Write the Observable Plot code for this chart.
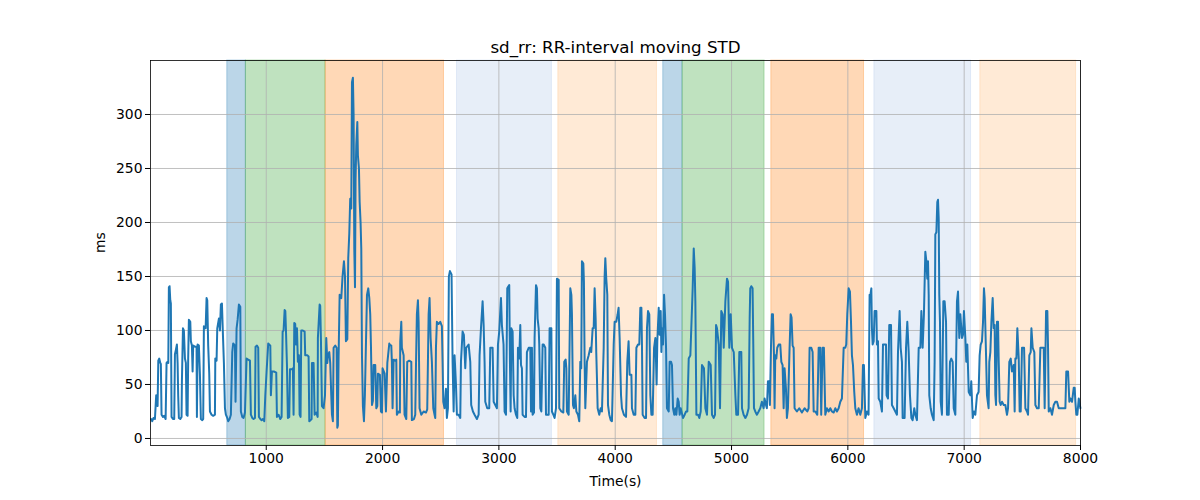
<!DOCTYPE html>
<html><head><meta charset="utf-8">
<script src="https://cdn.jsdelivr.net/npm/d3@7"></script>
<script src="https://cdn.jsdelivr.net/npm/@observablehq/plot@0.6"></script>
<style>body{margin:0;background:#fff;}</style>
</head><body><div id="chart"></div>
<script>
// [time (s), sd_rr (ms)], per stretch of time
const seg1 = [[10,18],[20,16],[31,19],[43,18],[49,30],[54,40],[60,34],[66,30],[72,72],[80,74],[89,70],[94,69],[100,22],[112,20],[123,21],[135,18],[143,70],[152,71],[158,70],[163,140],[169,141],[175,128],[180,125],[186,20],[198,18],[209,18],[215,78],[223,82],[232,87],[238,70],[243,40],[249,19],[261,18],[272,20],[275,53],[284,102],[292,100],[301,74],[309,70],[315,22],[324,21],[329,74],[335,110],[347,108],[352,90],[361,86],[367,62],[372,86],[387,85],[401,85],[404,20],[410,87],[421,86],[430,59],[438,18],[450,17],[458,18],[464,104],[473,102],[479,102],[487,130],[493,128],[501,86],[510,60],[516,25],[530,22],[544,21],[559,22],[562,74],[573,72],[579,102],[593,111],[602,100],[610,124],[619,125],[628,95],[636,70],[645,28],[653,22],[665,19],[673,16],[685,18],[696,22],[708,80],[716,88],[731,86],[736,34],[745,102],[754,110],[765,124],[777,122],[782,25],[794,20],[805,19],[817,24],[831,74],[845,73],[860,72],[868,22],[880,19],[891,18],[903,19],[908,85],[920,86],[931,84],[937,20],[949,18],[960,17],[971,18],[983,16],[992,40],[1003,62],[1017,88],[1035,86]];
const seg2 = [[1040,40],[1049,62],[1066,62],[1086,61],[1092,20],[1106,22],[1121,18],[1132,20],[1141,99],[1149,100],[1158,119],[1164,118],[1169,102],[1178,68],[1186,19],[1198,20],[1204,64],[1221,64],[1229,65],[1235,22],[1241,107],[1249,106],[1255,87],[1264,102],[1272,71],[1281,77],[1287,22],[1295,20],[1301,100],[1315,100],[1330,99],[1335,77],[1353,77],[1364,76],[1370,16],[1381,17],[1390,18],[1393,70],[1407,70],[1416,22],[1430,24],[1442,20],[1444,93],[1459,124],[1464,123],[1470,93],[1479,30],[1493,28],[1505,40],[1516,93],[1525,70],[1530,77],[1542,80],[1550,70],[1559,40],[1565,22],[1573,16],[1579,84],[1593,86],[1605,84],[1611,10],[1616,12],[1622,76],[1631,133],[1645,130],[1656,150],[1668,164],[1677,150],[1685,90],[1697,92],[1705,167],[1714,190],[1722,222],[1731,213],[1737,330],[1745,334],[1751,300],[1757,175],[1763,140],[1768,240],[1774,272],[1783,293],[1788,262],[1797,250],[1803,219],[1811,200],[1817,176],[1823,77],[1831,30],[1840,16],[1848,40],[1854,71],[1866,133],[1877,139],[1886,130],[1894,115],[1900,87],[1909,31],[1917,35],[1923,68],[1937,68],[1946,28],[1955,30],[1960,60],[1977,59],[1986,25],[1995,24],[2000,65],[2018,60],[2029,25],[2041,70],[2058,88]];
const seg3 = [[2060,87],[2075,86],[2080,71],[2086,28],[2095,73],[2109,72],[2118,73],[2123,22],[2138,25],[2149,24],[2152,90],[2161,108],[2166,84],[2181,77],[2189,22],[2204,18],[2212,71],[2229,72],[2247,71],[2252,17],[2270,18],[2281,22],[2287,65],[2295,115],[2304,128],[2310,108],[2318,28],[2333,22],[2353,25],[2373,24],[2384,27],[2390,71],[2396,115],[2404,130],[2413,93],[2424,71],[2436,28],[2447,22],[2453,19],[2459,84],[2467,108],[2482,106],[2496,108],[2510,104],[2516,71],[2522,34],[2533,28],[2545,46],[2553,19],[2562,28],[2570,150],[2579,155],[2593,152],[2602,71],[2611,25],[2619,77],[2631,50],[2639,22],[2654,22],[2668,19],[2674,71],[2688,99],[2699,96],[2711,65],[2719,84],[2740,87],[2754,71],[2762,31],[2777,25],[2791,22],[2811,18],[2826,22],[2834,77],[2846,102],[2860,127],[2869,105],[2877,71],[2883,34],[2900,28],[2917,28],[2926,84],[2946,84],[2955,34],[2969,31],[2983,28],[2992,87],[3003,99],[3018,130],[3026,105],[3040,87],[3049,25],[3061,22],[3072,139],[3089,142]];
const seg4 = [[3095,71],[3101,25],[3107,102],[3118,99],[3127,40],[3135,28],[3147,22],[3158,19],[3164,84],[3175,74],[3184,105],[3190,68],[3198,65],[3204,22],[3221,20],[3233,20],[3241,80],[3256,84],[3270,84],[3276,25],[3284,84],[3290,22],[3302,24],[3307,93],[3319,142],[3327,139],[3333,111],[3342,102],[3347,87],[3356,28],[3365,25],[3376,87],[3385,87],[3399,84],[3405,22],[3416,22],[3428,22],[3436,102],[3451,102],[3456,25],[3468,22],[3479,19],[3491,28],[3499,148],[3514,147],[3519,28],[3537,25],[3554,24],[3562,71],[3574,73],[3580,65],[3585,25],[3600,22],[3614,139],[3623,133],[3628,115],[3637,31],[3645,28],[3657,40],[3666,25],[3680,22],[3691,16],[3700,71],[3708,65],[3714,164],[3726,162],[3731,145],[3737,71],[3743,28],[3757,71],[3772,77],[3786,84],[3794,80],[3806,102],[3815,102],[3823,139],[3832,110],[3837,80],[3843,56],[3849,28],[3863,22],[3875,28],[3886,25],[3901,84],[3909,150],[3915,167],[3923,148],[3932,133],[3938,31],[3949,22],[3961,17],[3972,16],[3987,87],[3995,108],[4009,108],[4021,115],[4029,121],[4038,93],[4050,40],[4058,28],[4075,22],[4093,20],[4104,71],[4115,90]];
const seg5 = [[4124,59],[4139,59],[4144,28],[4159,22],[4173,22],[4182,84],[4196,87],[4207,87],[4216,121],[4225,121],[4230,87],[4236,22],[4253,19],[4265,19],[4273,102],[4282,118],[4293,115],[4302,40],[4311,22],[4322,22],[4334,84],[4345,93],[4351,71],[4356,50],[4362,90],[4374,121],[4382,96],[4391,118],[4397,80],[4402,102],[4411,87],[4420,133],[4428,115],[4437,84],[4445,28],[4460,25],[4468,71],[4480,71],[4488,68],[4497,28],[4508,22],[4517,28],[4526,22],[4537,37],[4546,34],[4554,22],[4563,28],[4574,23],[4583,19],[4597,22],[4609,25],[4620,25],[4632,74],[4646,77],[4655,105],[4666,139],[4675,176],[4683,158],[4689,127],[4698,22],[4712,22],[4723,19],[4735,25],[4746,68],[4763,65],[4775,28],[4789,22],[4804,71],[4821,68],[4832,22],[4847,19],[4858,22],[4867,105],[4875,102],[4890,87],[4901,28],[4912,118],[4924,115],[4933,84],[4947,127],[4961,148],[4970,145],[4981,84],[4993,115],[5004,84],[5019,80],[5033,40],[5041,22],[5056,22],[5067,80],[5084,80],[5090,28],[5104,22],[5119,19],[5133,22],[5147,28],[5156,111]];
const seg6 = [[5161,139],[5170,141],[5181,139],[5187,87],[5193,28],[5204,25],[5218,22],[5233,25],[5247,28],[5261,34],[5276,28],[5284,37],[5296,31],[5304,28],[5313,53],[5324,53],[5330,31],[5339,84],[5347,115],[5356,115],[5365,77],[5370,28],[5376,77],[5385,74],[5393,84],[5405,87],[5419,87],[5428,71],[5439,68],[5448,28],[5456,65],[5468,46],[5476,19],[5485,28],[5499,84],[5508,115],[5516,112],[5525,86],[5534,84],[5542,28],[5562,25],[5582,28],[5605,24],[5628,28],[5651,25],[5663,28],[5671,84],[5686,84],[5697,80],[5706,25],[5720,25],[5737,22],[5749,84],[5763,84],[5771,22],[5783,84],[5794,84],[5806,22],[5820,28],[5835,25],[5849,28],[5863,25],[5878,24],[5892,28],[5906,25],[5921,28],[5935,34],[5949,37],[5964,84],[5978,84],[5986,87],[5995,115],[6007,139],[6018,136],[6027,108],[6035,77],[6044,68],[6055,43],[6064,28],[6078,22],[6092,28],[6107,22],[6121,28],[6130,68],[6138,68],[6150,19],[6164,25],[6178,22],[6187,133]];
const seg7 = [[6190,130],[6202,139],[6207,102],[6213,87],[6222,90],[6230,118],[6245,118],[6250,87],[6259,90],[6265,37],[6279,34],[6293,25],[6302,87],[6316,87],[6328,87],[6333,40],[6345,37],[6356,105],[6371,105],[6379,31],[6394,28],[6408,25],[6422,22],[6431,80],[6445,118],[6454,84],[6465,71],[6471,19],[6488,19],[6500,84],[6511,108],[6523,80],[6534,40],[6546,19],[6557,17],[6571,28],[6580,22],[6594,17],[6609,84],[6623,84],[6632,118],[6643,84],[6654,115],[6666,173],[6675,164],[6683,148],[6689,164],[6695,133],[6700,40],[6712,28],[6723,22],[6738,17],[6746,71],[6752,189],[6761,191],[6769,219],[6775,221],[6781,204],[6786,133],[6792,108],[6798,34],[6809,22],[6821,127],[6832,127],[6844,108],[6852,22],[6867,22],[6878,71],[6889,74],[6901,71],[6910,28],[6924,22],[6938,127],[6947,136],[6958,93],[6967,115],[6981,93],[6990,96],[6998,118],[7010,93],[7018,71],[7027,87],[7039,43],[7053,40],[7061,53],[7073,19],[7084,25],[7096,22],[7110,40],[7124,43],[7133,77],[7142,87],[7153,90],[7162,108],[7170,139],[7176,130],[7188,77],[7196,40],[7210,28]];
const seg8 = [[7216,71],[7225,80],[7234,108],[7245,130],[7254,102],[7262,105],[7268,40],[7274,31],[7282,108],[7291,108],[7297,71],[7305,34],[7314,31],[7325,34],[7340,31],[7354,31],[7368,22],[7377,28],[7388,71],[7400,74],[7411,62],[7426,68],[7434,25],[7440,74],[7449,74],[7457,102],[7469,74],[7477,25],[7486,25],[7497,84],[7515,84],[7526,28],[7540,25],[7549,22],[7560,77],[7572,80],[7578,102],[7589,84],[7603,80],[7612,31],[7626,28],[7641,28],[7655,84],[7669,84],[7684,84],[7692,28],[7704,118],[7715,118],[7721,84],[7727,25],[7741,28],[7755,22],[7770,31],[7784,34],[7798,34],[7813,28],[7827,28],[7841,28],[7856,28],[7870,28],[7878,62],[7893,62],[7904,34],[7913,37],[7927,34],[7942,47],[7950,47],[7956,34],[7964,22],[7973,22],[7985,37],[7999,28]];

// shaded stage bands
const bandStart = [665, 825, 1510, 2640, 3511, 4413, 4579, 5342, 6228, 7139];
const bandEnd   = [825, 1510, 2528, 3456, 4359, 4579, 5284, 6139, 7059, 7962];
const bandColor = ["#1f77b4","#2ca02c","#ff7f0e","#aec7e8","#ffbb78","#1f77b4","#2ca02c","#ff7f0e","#aec7e8","#ffbb78"];

const xTicks = [1000, 2000, 3000, 4000, 5000, 6000, 7000, 8000];
const yTicks = [0, 50, 100, 150, 200, 250, 300];
const titleText = "sd_rr: RR-interval moving STD";
const xLabel = "Time(s)";
const yLabel = "ms";

const series = [...seg1, ...seg2, ...seg3, ...seg4, ...seg5, ...seg6, ...seg7, ...seg8].map(([t, v]) => ({t, v}));
const bands = bandStart.map((s, i) => ({start: s, end: bandEnd[i], color: bandColor[i]}));

const chart = Plot.plot({
  width: 1200,
  height: 500,
  marginLeft: 150,
  marginRight: 120,
  marginTop: 60,
  marginBottom: 55,
  style: {fontFamily: "'DejaVu Sans', sans-serif", fontSize: "13.9px", background: "white", color: "black"},
  x: {domain: [5, 8000]},
  y: {domain: [-6.5, 350]},
  color: {type: "identity"},
  marks: [
    Plot.rect(bands, {x1: "start", x2: "end", fill: "color", fillOpacity: 0.3, stroke: "color", strokeOpacity: 0.3, strokeWidth: 1}),
    Plot.gridX(xTicks, {stroke: "#b0b0b0", strokeOpacity: 1, strokeWidth: 0.8}),
    Plot.gridY(yTicks, {stroke: "#b0b0b0", strokeOpacity: 1, strokeWidth: 0.8}),
    Plot.line(series, {x: "t", y: "v", stroke: "#1f77b4", strokeWidth: 2}),
    Plot.frame({stroke: "black", strokeWidth: 0.8}),
    Plot.axisX(xTicks, {tickSize: 5, tickPadding: 3, label: null, stroke: "black", tickFormat: d => String(d)}),
    Plot.axisY(yTicks, {tickSize: 5, tickPadding: 3, label: null, stroke: "black", tickFormat: d => String(d)}),
    Plot.text([titleText], {frameAnchor: "top", dy: -8, lineAnchor: "bottom", fontSize: 16.7, text: d => d}),
    Plot.text([xLabel], {frameAnchor: "bottom", dy: 36, lineAnchor: "middle", text: d => d}),
    Plot.text([yLabel], {frameAnchor: "left", dx: -50, rotate: -90, text: d => d})
  ]
});
document.getElementById("chart").appendChild(chart);
</script>
</body></html>
